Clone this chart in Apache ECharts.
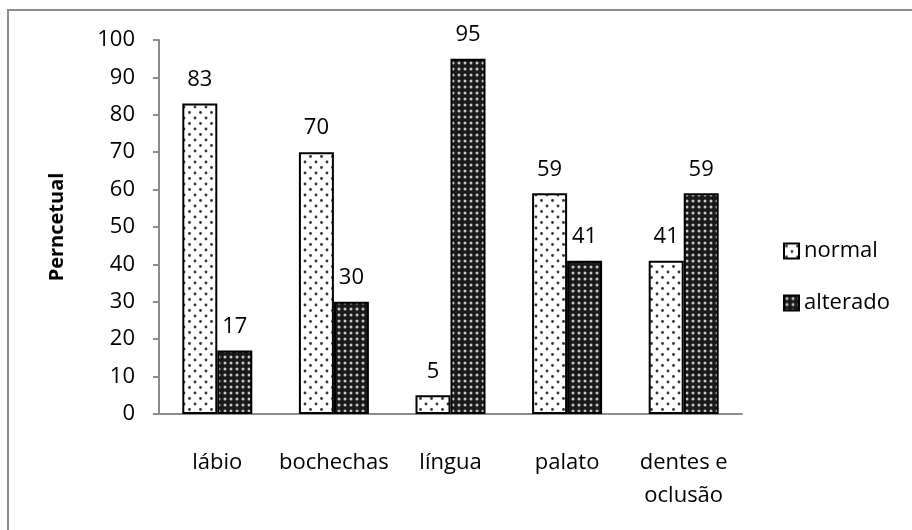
<!DOCTYPE html>
<html lang="pt">
<head>
    <meta charset="UTF-8">
    <title>Perncetual</title>
    <script src="https://cdn.jsdelivr.net/npm/echarts@6/dist/echarts.min.js"></script>
    <style>
        html, body { margin: 0; padding: 0; background: #fff; }
    </style>
</head>
<body>
<div id="main" style="width: 912px;height:530px;"></div>
<script type="text/javascript">
    var categories = ['lábio', 'bochechas', 'língua', 'palato', 'dentes e\noclusão'];
    var normal = [83, 70, 5, 59, 41];
    var alterado = [17, 30, 95, 41, 59];
    var yTicks = [0, 10, 20, 30, 40, 50, 60, 70, 80, 90, 100];

    // padrões de preenchimento (pontilhado e xadrez escuro)
    function dotPattern() {
        var c = document.createElement('canvas');
        c.width = 11; c.height = 11;
        var ctx = c.getContext('2d');
        ctx.fillStyle = '#fff';
        ctx.fillRect(0, 0, 11, 11);
        ctx.fillStyle = '#333';
        ctx.beginPath(); ctx.arc(2.5, 2.5, 1.4, 0, Math.PI * 2); ctx.fill();
        ctx.beginPath(); ctx.arc(8, 8, 1.4, 0, Math.PI * 2); ctx.fill();
        return c;
    }
    function darkPattern() {
        var c = document.createElement('canvas');
        c.width = 6; c.height = 6;
        var ctx = c.getContext('2d');
        ctx.fillStyle = '#1a1a1a';
        ctx.fillRect(0, 0, 6, 6);
        ctx.fillStyle = '#c8c8c8';
        ctx.beginPath(); ctx.arc(3, 3, 1.5, 0, Math.PI * 2); ctx.fill();
        return c;
    }

    var font = "'Open Sans', 'Liberation Sans', sans-serif";
    var chartDom = document.getElementById('main');
    var myChart = echarts.init(chartDom);
    var option;

    option = {
        animation: false,
        textStyle: { fontFamily: font },
        graphic: [{
            type: 'rect',
            shape: { x: 8, y: 10, width: 1000, height: 600 },
            style: { fill: 'none', stroke: '#8c8c8c', lineWidth: 2 }
        }],
        grid: { left: 159, top: 40, right: 170, bottom: 116 },
        legend: {
            orient: 'vertical',
            left: 783,
            top: 240,
            padding: 0,
            itemWidth: 15,
            itemHeight: 15,
            itemGap: 30,
            icon: 'rect',
            textStyle: { fontSize: 22, color: '#000', fontFamily: font },
            data: ['normal', 'alterado']
        },
        xAxis: {
            type: 'category',
            data: categories,
            axisLine: { lineStyle: { color: '#8c8c8c', width: 2 } },
            axisTick: { show: false },
            axisLabel: { fontSize: 22, color: '#000', margin: 32, lineHeight: 33, interval: 0, fontFamily: font }
        },
        yAxis: {
            type: 'value',
            min: yTicks[0],
            max: yTicks[yTicks.length - 1],
            interval: 10,
            name: 'Perncetual',
            nameLocation: 'middle',
            nameGap: 92,
            nameTextStyle: { fontSize: 20, fontWeight: 'bold', color: '#000', fontFamily: font },
            axisLine: { show: true, lineStyle: { color: '#8c8c8c', width: 2 } },
            axisTick: { show: true, length: 6, lineStyle: { color: '#8c8c8c', width: 2 } },
            axisLabel: { fontSize: 22, color: '#000', margin: 24, fontFamily: font },
            splitLine: { show: false }
        },
        series: [
            {
                name: 'normal',
                type: 'bar',
                data: normal,
                barWidth: 35,
                barGap: '0%',
                itemStyle: {
                    color: { image: dotPattern(), repeat: 'repeat' },
                    borderColor: '#000',
                    borderWidth: 2
                },
                label: { show: true, position: 'top', distance: 13, fontSize: 22, color: '#000', fontFamily: font }
            },
            {
                name: 'alterado',
                type: 'bar',
                data: alterado,
                barWidth: 35,
                itemStyle: {
                    color: { image: darkPattern(), repeat: 'repeat' },
                    borderColor: '#000',
                    borderWidth: 2
                },
                label: { show: true, position: 'top', distance: 13, fontSize: 22, color: '#000', fontFamily: font }
            }
        ]
    };

    option && myChart.setOption(option);
</script>
</body>
</html>
